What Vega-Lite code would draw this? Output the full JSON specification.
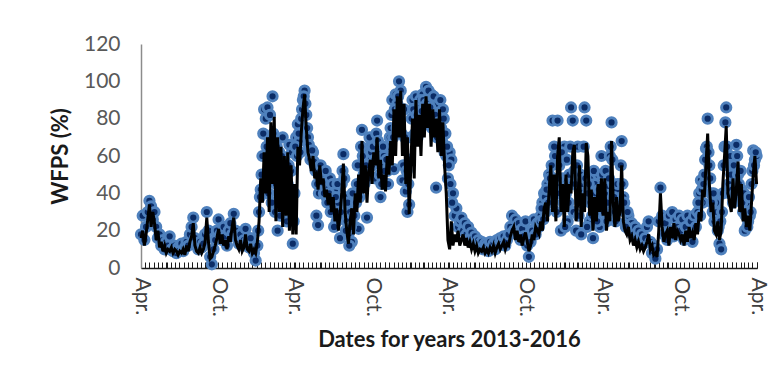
{
"$schema": "https://vega.github.io/schema/vega-lite/v6.json",
"width": 616, "height": 224,
"autosize": {"type": "none"},
"padding": {"left": 141, "top": 44, "right": 18, "bottom": 122},
"background": "white",
"config": {"view": {"stroke": null}, "font": "Lato",
  "axisY": {"labelOverlap": false}},
"data": {"format": {"parse": {"d": "date:'%Y-%m-%d'"}}, "values": [
{"d":"2013-04-01","o":18,"s":16},{"d":"2013-04-05","o":28,"s":20},{"d":"2013-04-09","o":15,"s":12},{"d":"2013-04-13","o":22,"s":18},{"d":"2013-04-17","o":30,"s":26},{"d":"2013-04-21","o":36,"s":34},{"d":"2013-04-25","o":33,"s":22},{"d":"2013-04-29","o":26,"s":30},
{"d":"2013-05-03","o":30,"s":24},{"d":"2013-05-07","o":22,"s":15},{"d":"2013-05-11","o":16,"s":20},{"d":"2013-05-15","o":18,"s":11},{"d":"2013-05-19","o":12,"s":14},{"d":"2013-05-23","o":15,"s":9},{"d":"2013-05-27","o":10,"s":12},{"d":"2013-05-31","o":14,"s":8},
{"d":"2013-06-04","o":12,"s":10},{"d":"2013-06-08","o":17,"s":9},{"d":"2013-06-12","o":10,"s":11},{"d":"2013-06-16","o":9,"s":8},{"d":"2013-06-20","o":12,"s":10},{"d":"2013-06-24","o":8,"s":9},{"d":"2013-06-28","o":11,"s":7},
{"d":"2013-07-02","o":10,"s":9},{"d":"2013-07-06","o":13,"s":8},{"d":"2013-07-10","o":9,"s":10},{"d":"2013-07-14","o":11,"s":7},{"d":"2013-07-18","o":14,"s":12},{"d":"2013-07-22","o":12,"s":9},{"d":"2013-07-26","o":18,"s":14},{"d":"2013-07-30","o":22,"s":17},
{"d":"2013-08-03","o":27,"s":24},{"d":"2013-08-07","o":16,"s":12},{"d":"2013-08-11","o":12,"s":9},{"d":"2013-08-15","o":10,"s":8},{"d":"2013-08-19","o":14,"s":11},{"d":"2013-08-23","o":11,"s":8},{"d":"2013-08-27","o":13,"s":10},{"d":"2013-08-31","o":18,"s":14},
{"d":"2013-09-04","o":30,"s":27},{"d":"2013-09-08","o":20,"s":14},{"d":"2013-09-12","o":6,"s":5},{"d":"2013-09-16","o":2,"s":6},{"d":"2013-09-20","o":10,"s":9},{"d":"2013-09-24","o":15,"s":12},{"d":"2013-09-28","o":20,"s":16},
{"d":"2013-10-02","o":26,"s":21},{"d":"2013-10-06","o":18,"s":13},{"d":"2013-10-10","o":15,"s":18},{"d":"2013-10-14","o":22,"s":12},{"d":"2013-10-18","o":17,"s":15},{"d":"2013-10-22","o":12,"s":10},{"d":"2013-10-26","o":20,"s":17},{"d":"2013-10-30","o":24,"s":14},
{"d":"2013-11-03","o":18,"s":22},{"d":"2013-11-07","o":29,"s":27},{"d":"2013-11-11","o":20,"s":15},{"d":"2013-11-15","o":16,"s":12},{"d":"2013-11-19","o":13,"s":10},{"d":"2013-11-23","o":18,"s":15},{"d":"2013-11-27","o":12,"s":9},
{"d":"2013-12-01","o":15,"s":11},{"d":"2013-12-05","o":21,"s":18},{"d":"2013-12-09","o":14,"s":10},{"d":"2013-12-13","o":11,"s":9},{"d":"2013-12-17","o":16,"s":13},{"d":"2013-12-21","o":10,"s":8},{"d":"2013-12-25","o":8,"s":10},{"d":"2013-12-29","o":4,"s":8},
{"d":"2014-01-02","o":12,"s":14},{"d":"2014-01-06","o":30,"s":25},{"d":"2014-01-10","o":42,"s":48},{"d":"2014-01-14","o":60,"s":35},{"d":"2014-01-18","o":85,"s":62},{"d":"2014-01-22","o":80,"s":40},{"d":"2014-01-26","o":86,"s":70},{"d":"2014-01-30","o":70,"s":30},
{"d":"2014-02-03","o":60,"s":78},{"d":"2014-02-07","o":92,"s":45},{"d":"2014-02-11","o":55,"s":81},{"d":"2014-02-15","o":45,"s":25},{"d":"2014-02-19","o":20,"s":70},{"d":"2014-02-23","o":62,"s":30},{"d":"2014-02-27","o":50,"s":65},
{"d":"2014-03-03","o":70,"s":22},{"d":"2014-03-07","o":58,"s":60},{"d":"2014-03-11","o":38,"s":28},{"d":"2014-03-15","o":45,"s":62},{"d":"2014-03-19","o":66,"s":20},{"d":"2014-03-23","o":52,"s":55},{"d":"2014-03-27","o":13,"s":18},{"d":"2014-03-31","o":40,"s":45},
{"d":"2014-04-04","o":70,"s":18},{"d":"2014-04-08","o":77,"s":65},{"d":"2014-04-12","o":68,"s":55},{"d":"2014-04-16","o":80,"s":72},{"d":"2014-04-20","o":90,"s":85},{"d":"2014-04-24","o":95,"s":93},{"d":"2014-04-28","o":82,"s":75},
{"d":"2014-05-02","o":70,"s":62},{"d":"2014-05-06","o":64,"s":58},{"d":"2014-05-10","o":60,"s":52},{"d":"2014-05-14","o":62,"s":60},{"d":"2014-05-18","o":55,"s":48},{"d":"2014-05-22","o":28,"s":50},{"d":"2014-05-26","o":23,"s":42},{"d":"2014-05-30","o":52,"s":55},
{"d":"2014-06-03","o":50,"s":45},{"d":"2014-06-07","o":42,"s":48},{"d":"2014-06-11","o":48,"s":38},{"d":"2014-06-15","o":38,"s":42},{"d":"2014-06-19","o":44,"s":34},{"d":"2014-06-23","o":48,"s":40},{"d":"2014-06-27","o":36,"s":30},
{"d":"2014-07-01","o":30,"s":38},{"d":"2014-07-05","o":42,"s":25},{"d":"2014-07-09","o":25,"s":32},{"d":"2014-07-13","o":35,"s":20},{"d":"2014-07-17","o":16,"s":28},{"d":"2014-07-21","o":45,"s":40},{"d":"2014-07-25","o":61,"s":56},{"d":"2014-07-29","o":38,"s":30},
{"d":"2014-08-02","o":25,"s":20},{"d":"2014-08-06","o":18,"s":13},{"d":"2014-08-10","o":30,"s":25},{"d":"2014-08-14","o":14,"s":32},{"d":"2014-08-18","o":35,"s":18},{"d":"2014-08-22","o":22,"s":40},{"d":"2014-08-26","o":45,"s":30},{"d":"2014-08-30","o":21,"s":50},
{"d":"2014-09-03","o":55,"s":35},{"d":"2014-09-07","o":74,"s":68},{"d":"2014-09-11","o":50,"s":40},{"d":"2014-09-15","o":62,"s":55},{"d":"2014-09-19","o":27,"s":35},{"d":"2014-09-23","o":60,"s":52},{"d":"2014-09-27","o":65,"s":58},
{"d":"2014-10-01","o":55,"s":45},{"d":"2014-10-05","o":70,"s":62},{"d":"2014-10-09","o":48,"s":55},{"d":"2014-10-13","o":79,"s":70},{"d":"2014-10-17","o":62,"s":48},{"d":"2014-10-21","o":38,"s":58},{"d":"2014-10-25","o":55,"s":42},{"d":"2014-10-29","o":60,"s":50},
{"d":"2014-11-02","o":45,"s":41},{"d":"2014-11-06","o":52,"s":60},{"d":"2014-11-10","o":65,"s":50},{"d":"2014-11-14","o":75,"s":68},{"d":"2014-11-18","o":90,"s":55},{"d":"2014-11-22","o":53,"s":85},{"d":"2014-11-26","o":93,"s":60},{"d":"2014-11-30","o":88,"s":92},
{"d":"2014-12-04","o":100,"s":70},{"d":"2014-12-08","o":95,"s":95},{"d":"2014-12-12","o":47,"s":60},{"d":"2014-12-16","o":85,"s":88},{"d":"2014-12-20","o":41,"s":45},{"d":"2014-12-24","o":30,"s":70},{"d":"2014-12-28","o":34,"s":29},
{"d":"2015-01-01","o":70,"s":55},{"d":"2015-01-05","o":90,"s":80},{"d":"2015-01-09","o":80,"s":48},{"d":"2015-01-13","o":92,"s":90},{"d":"2015-01-17","o":70,"s":65},{"d":"2015-01-21","o":88,"s":82},{"d":"2015-01-25","o":76,"s":60},{"d":"2015-01-29","o":93,"s":88},
{"d":"2015-02-02","o":85,"s":70},{"d":"2015-02-06","o":97,"s":92},{"d":"2015-02-10","o":90,"s":75},{"d":"2015-02-14","o":80,"s":88},{"d":"2015-02-18","o":93,"s":65},{"d":"2015-02-22","o":86,"s":85},{"d":"2015-02-26","o":78,"s":70},
{"d":"2015-03-02","o":43,"s":80},{"d":"2015-03-06","o":88,"s":62},{"d":"2015-03-10","o":82,"s":85},{"d":"2015-03-14","o":75,"s":60},{"d":"2015-03-18","o":85,"s":78},{"d":"2015-03-22","o":62,"s":55},{"d":"2015-03-26","o":60,"s":40},{"d":"2015-03-30","o":48,"s":15},
{"d":"2015-04-03","o":62,"s":10},{"d":"2015-04-07","o":58,"s":25},{"d":"2015-04-11","o":40,"s":12},{"d":"2015-04-15","o":28,"s":18},{"d":"2015-04-19","o":32,"s":14},{"d":"2015-04-23","o":22,"s":20},{"d":"2015-04-27","o":25,"s":12},
{"d":"2015-05-01","o":27,"s":15},{"d":"2015-05-05","o":20,"s":18},{"d":"2015-05-09","o":24,"s":12},{"d":"2015-05-13","o":18,"s":16},{"d":"2015-05-17","o":22,"s":11},{"d":"2015-05-21","o":16,"s":14},{"d":"2015-05-25","o":19,"s":10},{"d":"2015-05-29","o":15,"s":13},
{"d":"2015-06-02","o":17,"s":9},{"d":"2015-06-06","o":13,"s":12},{"d":"2015-06-10","o":15,"s":8},{"d":"2015-06-14","o":11,"s":10},{"d":"2015-06-18","o":14,"s":9},{"d":"2015-06-22","o":10,"s":11},{"d":"2015-06-26","o":13,"s":8},{"d":"2015-06-30","o":12,"s":10},
{"d":"2015-07-04","o":9,"s":8},{"d":"2015-07-08","o":14,"s":11},{"d":"2015-07-12","o":11,"s":9},{"d":"2015-07-16","o":13,"s":12},{"d":"2015-07-20","o":10,"s":8},{"d":"2015-07-24","o":15,"s":11},{"d":"2015-07-28","o":12,"s":13},
{"d":"2015-08-01","o":16,"s":10},{"d":"2015-08-05","o":13,"s":12},{"d":"2015-08-09","o":17,"s":14},{"d":"2015-08-13","o":12,"s":10},{"d":"2015-08-17","o":15,"s":13},{"d":"2015-08-21","o":18,"s":12},{"d":"2015-08-25","o":22,"s":17},{"d":"2015-08-29","o":28,"s":20},
{"d":"2015-09-02","o":20,"s":22},{"d":"2015-09-06","o":26,"s":15},{"d":"2015-09-10","o":18,"s":20},{"d":"2015-09-14","o":24,"s":14},{"d":"2015-09-18","o":15,"s":18},{"d":"2015-09-22","o":21,"s":12},{"d":"2015-09-26","o":17,"s":16},{"d":"2015-09-30","o":25,"s":19},
{"d":"2015-10-04","o":12,"s":14},{"d":"2015-10-08","o":6,"s":9},{"d":"2015-10-12","o":14,"s":12},{"d":"2015-10-16","o":20,"s":18},{"d":"2015-10-20","o":26,"s":15},{"d":"2015-10-24","o":18,"s":22},{"d":"2015-10-28","o":24,"s":20},
{"d":"2015-11-01","o":22,"s":18},{"d":"2015-11-05","o":28,"s":25},{"d":"2015-11-09","o":35,"s":20},{"d":"2015-11-13","o":40,"s":32},{"d":"2015-11-17","o":30,"s":35},{"d":"2015-11-21","o":45,"s":25},{"d":"2015-11-25","o":50,"s":42},{"d":"2015-11-29","o":38,"s":55},
{"d":"2015-12-03","o":79,"s":30},{"d":"2015-12-07","o":65,"s":50},{"d":"2015-12-11","o":45,"s":25},{"d":"2015-12-15","o":79,"s":60},{"d":"2015-12-19","o":55,"s":70},{"d":"2015-12-23","o":20,"s":30},{"d":"2015-12-27","o":48,"s":45},{"d":"2015-12-31","o":65,"s":22},
{"d":"2016-01-04","o":40,"s":50},{"d":"2016-01-08","o":25,"s":30},{"d":"2016-01-12","o":50,"s":45},{"d":"2016-01-16","o":86,"s":40},{"d":"2016-01-20","o":79,"s":62},{"d":"2016-01-24","o":52,"s":66},{"d":"2016-01-28","o":20,"s":25},
{"d":"2016-02-01","o":65,"s":35},{"d":"2016-02-05","o":42,"s":55},{"d":"2016-02-09","o":18,"s":22},{"d":"2016-02-13","o":45,"s":40},{"d":"2016-02-17","o":86,"s":30},{"d":"2016-02-21","o":79,"s":67},{"d":"2016-02-25","o":40,"s":60},{"d":"2016-02-29","o":25,"s":28},
{"d":"2016-03-04","o":48,"s":42},{"d":"2016-03-08","o":16,"s":20},{"d":"2016-03-12","o":45,"s":38},{"d":"2016-03-16","o":30,"s":25},{"d":"2016-03-20","o":50,"s":45},{"d":"2016-03-24","o":22,"s":30},{"d":"2016-03-28","o":60,"s":48},
{"d":"2016-04-01","o":44,"s":28},{"d":"2016-04-05","o":40,"s":48},{"d":"2016-04-09","o":25,"s":20},{"d":"2016-04-13","o":44,"s":30},{"d":"2016-04-17","o":60,"s":25},{"d":"2016-04-21","o":78,"s":68},{"d":"2016-04-25","o":45,"s":35},{"d":"2016-04-29","o":30,"s":22},
{"d":"2016-05-03","o":42,"s":38},{"d":"2016-05-07","o":35,"s":25},{"d":"2016-05-11","o":45,"s":30},{"d":"2016-05-15","o":68,"s":55},{"d":"2016-05-19","o":38,"s":25},{"d":"2016-05-23","o":30,"s":20},{"d":"2016-05-27","o":25,"s":18},{"d":"2016-05-31","o":28,"s":22},
{"d":"2016-06-04","o":20,"s":15},{"d":"2016-06-08","o":24,"s":17},{"d":"2016-06-12","o":18,"s":12},{"d":"2016-06-16","o":22,"s":15},{"d":"2016-06-20","o":16,"s":11},{"d":"2016-06-24","o":20,"s":14},{"d":"2016-06-28","o":15,"s":10},
{"d":"2016-07-02","o":18,"s":12},{"d":"2016-07-06","o":13,"s":9},{"d":"2016-07-10","o":16,"s":11},{"d":"2016-07-14","o":22,"s":14},{"d":"2016-07-18","o":25,"s":18},{"d":"2016-07-22","o":14,"s":10},{"d":"2016-07-26","o":8,"s":12},{"d":"2016-07-30","o":12,"s":7},
{"d":"2016-08-03","o":5,"s":8},{"d":"2016-08-07","o":10,"s":6},{"d":"2016-08-11","o":25,"s":20},{"d":"2016-08-15","o":43,"s":40},{"d":"2016-08-19","o":28,"s":22},{"d":"2016-08-23","o":18,"s":14},{"d":"2016-08-27","o":24,"s":18},{"d":"2016-08-31","o":15,"s":20},
{"d":"2016-09-04","o":28,"s":12},{"d":"2016-09-08","o":20,"s":22},{"d":"2016-09-12","o":30,"s":16},{"d":"2016-09-16","o":17,"s":24},{"d":"2016-09-20","o":26,"s":15},{"d":"2016-09-24","o":22,"s":20},{"d":"2016-09-28","o":28,"s":18},
{"d":"2016-10-02","o":20,"s":15},{"d":"2016-10-06","o":26,"s":18},{"d":"2016-10-10","o":15,"s":12},{"d":"2016-10-14","o":22,"s":20},{"d":"2016-10-18","o":28,"s":14},{"d":"2016-10-22","o":18,"s":22},{"d":"2016-10-26","o":25,"s":16},{"d":"2016-10-30","o":14,"s":19},
{"d":"2016-11-03","o":28,"s":15},{"d":"2016-11-07","o":22,"s":24},{"d":"2016-11-11","o":30,"s":18},{"d":"2016-11-15","o":40,"s":30},{"d":"2016-11-19","o":47,"s":25},{"d":"2016-11-23","o":35,"s":42},{"d":"2016-11-27","o":50,"s":38},
{"d":"2016-12-01","o":64,"s":55},{"d":"2016-12-05","o":80,"s":72},{"d":"2016-12-09","o":55,"s":45},{"d":"2016-12-13","o":40,"s":30},{"d":"2016-12-17","o":30,"s":35},{"d":"2016-12-21","o":25,"s":20},{"d":"2016-12-25","o":35,"s":18},{"d":"2016-12-29","o":20,"s":25},
{"d":"2017-01-02","o":13,"s":15},{"d":"2017-01-06","o":10,"s":20},{"d":"2017-01-10","o":40,"s":45},{"d":"2017-01-14","o":65,"s":60},{"d":"2017-01-18","o":86,"s":76},{"d":"2017-01-22","o":55,"s":40},{"d":"2017-01-26","o":40,"s":35},{"d":"2017-01-30","o":50,"s":30},
{"d":"2017-02-03","o":35,"s":48},{"d":"2017-02-07","o":45,"s":32},{"d":"2017-02-11","o":66,"s":42},{"d":"2017-02-15","o":50,"s":57},{"d":"2017-02-19","o":38,"s":30},{"d":"2017-02-23","o":42,"s":45},{"d":"2017-02-27","o":30,"s":25},
{"d":"2017-03-03","o":20,"s":32},{"d":"2017-03-07","o":35,"s":22},{"d":"2017-03-11","o":25,"s":28},{"d":"2017-03-15","o":28,"s":20},{"d":"2017-03-19","o":45,"s":35},{"d":"2017-03-23","o":63,"s":50},{"d":"2017-03-27","o":58,"s":60},{"d":"2017-03-31","o":60,"s":45},
{"d":"2014-01-04","o":20},{"d":"2014-01-08","o":38},{"d":"2014-01-12","o":50},{"d":"2014-01-16","o":72},{"d":"2014-01-20","o":45},{"d":"2014-01-24","o":65},{"d":"2014-01-28","o":40},
{"d":"2014-02-01","o":82},{"d":"2014-02-05","o":35},{"d":"2014-02-09","o":72},{"d":"2014-02-13","o":30},{"d":"2014-02-17","o":65},{"d":"2014-02-21","o":40},{"d":"2014-02-25","o":28},
{"d":"2014-03-01","o":60},{"d":"2014-03-05","o":35},{"d":"2014-03-09","o":48},{"d":"2014-03-13","o":25},{"d":"2014-03-17","o":55},{"d":"2014-03-21","o":35},{"d":"2014-03-25","o":62},{"d":"2014-03-29","o":25},
{"d":"2014-04-02","o":65},{"d":"2014-04-06","o":60},{"d":"2014-04-10","o":72},{"d":"2014-04-14","o":62},{"d":"2014-04-18","o":85},{"d":"2014-04-22","o":92},{"d":"2014-04-26","o":88},{"d":"2014-04-30","o":75},
{"d":"2014-05-04","o":66},{"d":"2014-05-08","o":58},{"d":"2014-05-12","o":63},{"d":"2014-05-16","o":57},{"d":"2014-05-20","o":52},{"d":"2014-05-24","o":45},{"d":"2014-05-28","o":40},
{"d":"2014-06-01","o":55},{"d":"2014-06-05","o":46},{"d":"2014-06-09","o":40},{"d":"2014-06-13","o":52},{"d":"2014-06-17","o":35},{"d":"2014-06-21","o":40},{"d":"2014-06-25","o":30},{"d":"2014-06-29","o":45},
{"d":"2014-07-03","o":22},{"d":"2014-07-07","o":38},{"d":"2014-07-11","o":45},{"d":"2014-07-15","o":28},{"d":"2014-07-19","o":30},{"d":"2014-07-23","o":52},{"d":"2014-07-27","o":48},{"d":"2014-07-31","o":20},
{"d":"2014-08-04","o":35},{"d":"2014-08-08","o":12},{"d":"2014-08-12","o":22},{"d":"2014-08-16","o":40},{"d":"2014-08-20","o":28},{"d":"2014-08-24","o":35},{"d":"2014-08-28","o":55},
{"d":"2014-09-01","o":38},{"d":"2014-09-05","o":65},{"d":"2014-09-09","o":60},{"d":"2014-09-13","o":45},{"d":"2014-09-17","o":55},{"d":"2014-09-21","o":48},{"d":"2014-09-25","o":70},{"d":"2014-09-29","o":62},
{"d":"2014-10-03","o":65},{"d":"2014-10-07","o":58},{"d":"2014-10-11","o":72},{"d":"2014-10-15","o":68},{"d":"2014-10-19","o":50},{"d":"2014-10-23","o":45},{"d":"2014-10-27","o":65},{"d":"2014-10-31","o":52},
{"d":"2014-11-04","o":58},{"d":"2014-11-08","o":45},{"d":"2014-11-12","o":70},{"d":"2014-11-16","o":82},{"d":"2014-11-20","o":70},{"d":"2014-11-24","o":85},{"d":"2014-11-28","o":75},
{"d":"2014-12-02","o":92},{"d":"2014-12-06","o":85},{"d":"2014-12-10","o":72},{"d":"2014-12-14","o":55},{"d":"2014-12-18","o":70},{"d":"2014-12-22","o":52},{"d":"2014-12-26","o":45},{"d":"2014-12-30","o":58},
{"d":"2015-01-03","o":80},{"d":"2015-01-07","o":85},{"d":"2015-01-11","o":72},{"d":"2015-01-15","o":82},{"d":"2015-01-19","o":78},{"d":"2015-01-23","o":90},{"d":"2015-01-27","o":84},{"d":"2015-01-31","o":90},
{"d":"2015-02-04","o":78},{"d":"2015-02-08","o":88},{"d":"2015-02-12","o":95},{"d":"2015-02-16","o":86},{"d":"2015-02-20","o":75},{"d":"2015-02-24","o":92},{"d":"2015-02-28","o":82},
{"d":"2015-03-04","o":70},{"d":"2015-03-08","o":78},{"d":"2015-03-12","o":90},{"d":"2015-03-16","o":68},{"d":"2015-03-20","o":80},{"d":"2015-03-24","o":72},{"d":"2015-03-28","o":65},
{"d":"2015-04-01","o":55},{"d":"2015-04-05","o":45},{"d":"2015-04-09","o":35},
{"d":"2015-11-03","o":25},{"d":"2015-11-07","o":32},{"d":"2015-11-11","o":26},{"d":"2015-11-15","o":38},{"d":"2015-11-19","o":42},{"d":"2015-11-23","o":35},{"d":"2015-11-27","o":48},
{"d":"2015-12-01","o":55},{"d":"2015-12-05","o":42},{"d":"2015-12-09","o":60},{"d":"2015-12-13","o":30},{"d":"2015-12-17","o":48},{"d":"2015-12-21","o":40},{"d":"2015-12-25","o":62},{"d":"2015-12-29","o":35},
{"d":"2016-01-02","o":22},{"d":"2016-01-06","o":58},{"d":"2016-01-10","o":35},{"d":"2016-01-14","o":65},{"d":"2016-01-18","o":45},{"d":"2016-01-22","o":30},{"d":"2016-01-26","o":45},{"d":"2016-01-30","o":55},
{"d":"2016-02-03","o":28},{"d":"2016-02-07","o":50},{"d":"2016-02-11","o":35},{"d":"2016-02-15","o":65},{"d":"2016-02-19","o":48},{"d":"2016-02-23","o":22},{"d":"2016-02-27","o":45},
{"d":"2016-03-02","o":35},{"d":"2016-03-06","o":28},{"d":"2016-03-10","o":52},{"d":"2016-03-14","o":40},{"d":"2016-03-18","o":25},{"d":"2016-03-22","o":42},{"d":"2016-03-26","o":35},{"d":"2016-03-30","o":50},
{"d":"2016-04-03","o":30},{"d":"2016-04-07","o":52},{"d":"2016-04-11","o":35},{"d":"2016-04-15","o":48},{"d":"2016-04-19","o":65},{"d":"2016-04-23","o":58},{"d":"2016-04-27","o":38},
{"d":"2016-05-01","o":25},{"d":"2016-05-05","o":45},{"d":"2016-05-09","o":32},{"d":"2016-05-13","o":55},{"d":"2016-05-17","o":45},{"d":"2016-05-21","o":35},{"d":"2016-05-25","o":22},{"d":"2016-05-29","o":30},
{"d":"2016-11-13","o":35},{"d":"2016-11-17","o":28},{"d":"2016-11-21","o":42},{"d":"2016-11-25","o":45},{"d":"2016-11-29","o":58},
{"d":"2016-12-03","o":65},{"d":"2016-12-07","o":62},{"d":"2016-12-11","o":48},{"d":"2016-12-15","o":35},{"d":"2016-12-19","o":40},{"d":"2016-12-23","o":28},{"d":"2016-12-27","o":30},{"d":"2016-12-31","o":22},
{"d":"2017-01-04","o":25},{"d":"2017-01-08","o":30},{"d":"2017-01-12","o":55},{"d":"2017-01-16","o":78},{"d":"2017-01-20","o":65},{"d":"2017-01-24","o":45},{"d":"2017-01-28","o":60},
{"d":"2017-02-01","o":42},{"d":"2017-02-05","o":55},{"d":"2017-02-09","o":40},{"d":"2017-02-13","o":60},{"d":"2017-02-17","o":45},{"d":"2017-02-21","o":52},{"d":"2017-02-25","o":35},
{"d":"2017-03-01","o":40},{"d":"2017-03-05","o":28},{"d":"2017-03-09","o":22},{"d":"2017-03-13","o":38},{"d":"2017-03-17","o":30},{"d":"2017-03-21","o":52},{"d":"2017-03-25","o":55},{"d":"2017-03-29","o":62}
]},
"encoding": {
  "x": {"field": "d", "type": "temporal",
    "scale": {"domain": [{"year": 2013, "month": 4, "date": 1}, {"year": 2017, "month": 4, "date": 1}], "nice": false},
    "axis": {"title": "Dates for years 2013-2016", "tickCount": {"interval": "day", "step": 10},
      "labelExpr": "month(datum.value) == 3 && date(datum.value) == 1 ? 'Apr.' : (month(datum.value) == 9 && date(datum.value) == 1 ? 'Oct.' : '')",
      "labelAngle": 90, "labelFontSize": 21, "labelColor": "#404040", "labelPadding": 15,
      "labelOverlap": false, "labelFlush": false, "labelBound": false,
      "tickSize": -6, "tickColor": "#1a1a1a", "tickWidth": 1, "domainColor": "#1a1a1a", "domainWidth": 1.5, "grid": false,
      "titleFontSize": 22, "titleFontWeight": "bold", "titleColor": "#1a1a1a", "titlePadding": 13}}
},
"layer": [
  {"mark": {"type": "circle", "size": 85, "fill": "#0b2c66", "stroke": "#4f81bd", "strokeWidth": 3, "opacity": 1, "fillOpacity": 1},
   "encoding": {"y": {"field": "o", "type": "quantitative", "scale": {"domain": [0, 120], "nice": false},
     "axis": {"title": "WFPS (%)", "values": [0, 20, 40, 60, 80, 100, 120], "tickCount": 7, "grid": false, "ticks": false, "labelOverlap": false,
       "domainColor": "#8c8c8c", "domainWidth": 1.5, "labelFontSize": 21, "labelColor": "#595959", "labelPadding": 21,
       "titleFontSize": 22, "titleFontWeight": "bold", "titleColor": "#1a1a1a", "titlePadding": 11}}}},
  {"transform": [{"filter": "isValid(datum.s)"}],
   "mark": {"type": "line", "color": "black", "strokeWidth": 3},
   "encoding": {"y": {"field": "s", "type": "quantitative",
     "axis": {"title": "WFPS (%)", "values": [0, 20, 40, 60, 80, 100, 120], "tickCount": 7, "grid": false, "ticks": false, "labelOverlap": false,
       "domainColor": "#8c8c8c", "domainWidth": 1.5, "labelFontSize": 21, "labelColor": "#595959", "labelPadding": 21,
       "titleFontSize": 22, "titleFontWeight": "bold", "titleColor": "#1a1a1a", "titlePadding": 11}}}}
]
}
